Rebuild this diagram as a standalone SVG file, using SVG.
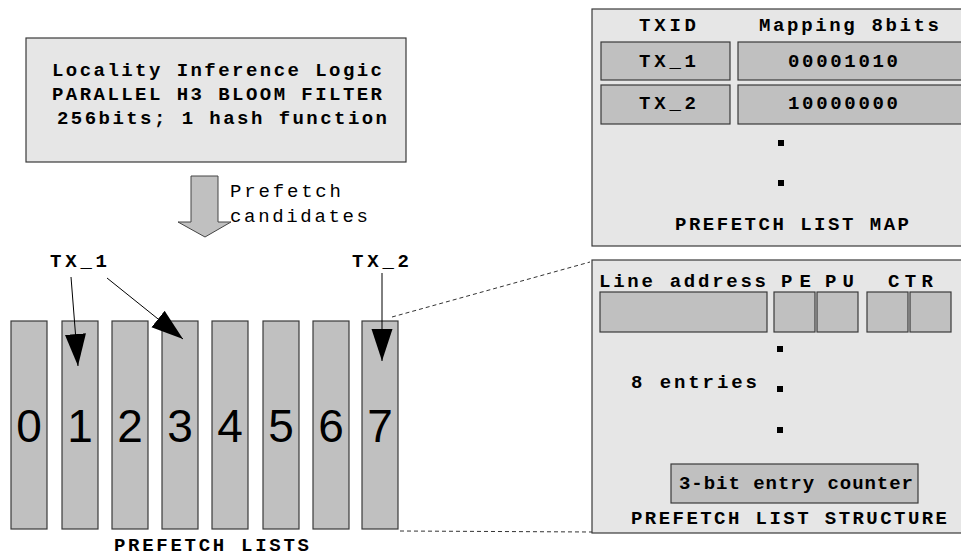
<svg xmlns="http://www.w3.org/2000/svg" width="961" height="556" viewBox="0 0 961 556">
<defs>
<style>
.box{fill:#e6e6e6;stroke:#3a3a3a;stroke-width:1.2}
.cell{fill:#c0c0c0;stroke:#3a3a3a;stroke-width:1.2}
.t{font-family:"Liberation Mono","Courier New",monospace;font-size:19px;font-weight:bold;fill:#000}
.tn{font-family:"Liberation Mono","Courier New",monospace;font-size:19px;fill:#000}
.d{font-family:"Liberation Sans",Arial,sans-serif;font-size:46px;fill:#000;text-anchor:middle}
.ln{stroke:#000;stroke-width:1;fill:none}
.dash{stroke:#333;stroke-width:1;stroke-dasharray:4,3;fill:none}
.dot{fill:#000}
</style>
<marker id="ah" markerUnits="userSpaceOnUse" markerWidth="34" markerHeight="22" refX="32" refY="10.5" orient="auto">
<path d="M0,0 L32,10.5 L0,21 Z" fill="#000"/>
</marker>
</defs>

<g id="locality-logic">
<rect class="box" x="26" y="38" width="380" height="124"/>
<text class="t" x="52" y="76" textLength="330">Locality Inference Logic</text>
<text class="t" x="52" y="100" textLength="330">PARALLEL H3 BLOOM FILTER</text>
<text class="t" x="57" y="124" textLength="330">256bits; 1 hash function</text>
</g>

<g id="prefetch-arrow">
<polygon points="191,176 218,176 218,222 231,222 205,237 178,222 191,222" fill="#c0c0c0" stroke="#444" stroke-width="1"/>
<text class="tn" x="230" y="197" textLength="111">Prefetch</text>
<text class="tn" x="230" y="222" textLength="138">candidates</text>
</g>

<g id="prefetch-list-map">
<rect class="box" x="592" y="9" width="380" height="237"/>
<text class="t" x="639" y="31" textLength="57">TXID</text>
<text class="t" x="759" y="31" textLength="180">Mapping 8bits</text>
<rect class="cell" x="601" y="42" width="129" height="38"/>
<rect class="cell" x="738" y="42" width="240" height="38"/>
<rect class="cell" x="601" y="85" width="129" height="39"/>
<rect class="cell" x="738" y="85" width="240" height="39"/>
<text class="t" x="639" y="67" textLength="57">TX_1</text>
<text class="t" x="788" y="67" textLength="110">00001010</text>
<text class="t" x="639" y="109" textLength="57">TX_2</text>
<text class="t" x="788" y="109" textLength="110">10000000</text>
<rect class="dot" x="778" y="140" width="6" height="6"/>
<rect class="dot" x="778" y="180" width="6" height="6"/>
<text class="t" x="675" y="230" textLength="234">PREFETCH LIST MAP</text>
</g>

<g id="prefetch-lists">
<rect class="cell" x="11" y="321" width="36" height="208"/>
<rect class="cell" x="62" y="321" width="36" height="208"/>
<rect class="cell" x="112" y="321" width="36" height="208"/>
<rect class="cell" x="162" y="321" width="36" height="208"/>
<rect class="cell" x="212" y="321" width="36" height="208"/>
<rect class="cell" x="263" y="321" width="36" height="208"/>
<rect class="cell" x="313" y="321" width="36" height="208"/>
<rect class="cell" x="362" y="321" width="36" height="208"/>
<text class="d" x="29" y="442">0</text>
<text class="d" x="80" y="442">1</text>
<text class="d" x="130" y="442">2</text>
<text class="d" x="180" y="442">3</text>
<text class="d" x="230" y="442">4</text>
<text class="d" x="281" y="442">5</text>
<text class="d" x="331" y="442">6</text>
<text class="d" x="380" y="442">7</text>
<text class="t" x="114" y="551" textLength="195">PREFETCH LISTS</text>
</g>

<g id="tx-labels">
<text class="t" x="50" y="267" textLength="57">TX_1</text>
<text class="t" x="352" y="267" textLength="57">TX_2</text>
</g>

<g id="prefetch-list-structure">
<rect class="box" x="592" y="260" width="380" height="273"/>
<text class="t" x="599" y="287" textLength="167">Line address</text>
<text class="t" x="781" y="287" textLength="30">PE</text>
<text class="t" x="825" y="287" textLength="29">PU</text>
<text class="t" x="888" y="287" textLength="45">CTR</text>
<rect class="cell" x="600" y="292" width="167" height="40"/>
<rect class="cell" x="774" y="292" width="41" height="40"/>
<rect class="cell" x="817" y="292" width="41" height="40"/>
<rect class="cell" x="867" y="292" width="41" height="40"/>
<rect class="cell" x="910" y="292" width="41" height="40"/>
<rect class="dot" x="777" y="346" width="6" height="6"/>
<rect class="dot" x="777" y="386" width="6" height="6"/>
<rect class="dot" x="777" y="427" width="6" height="6"/>
<text class="t" x="631" y="388" textLength="126">8 entries</text>
<rect class="cell" x="671" y="464" width="247" height="39"/>
<text class="t" x="679" y="489" textLength="234">3-bit entry counter</text>
<text class="t" x="631" y="524" textLength="316">PREFETCH LIST STRUCTURE</text>
</g>

<g id="connectors">
<line class="ln" x1="71" y1="277" x2="78" y2="366" marker-end="url(#ah)"/>
<line class="ln" x1="107" y1="278" x2="183" y2="339" marker-end="url(#ah)"/>
<line class="ln" x1="382" y1="273" x2="382" y2="361" marker-end="url(#ah)"/>
<line class="dash" x1="392" y1="317" x2="590" y2="262"/>
<line class="dash" x1="400" y1="531" x2="592" y2="532"/>
</g>
</svg>
